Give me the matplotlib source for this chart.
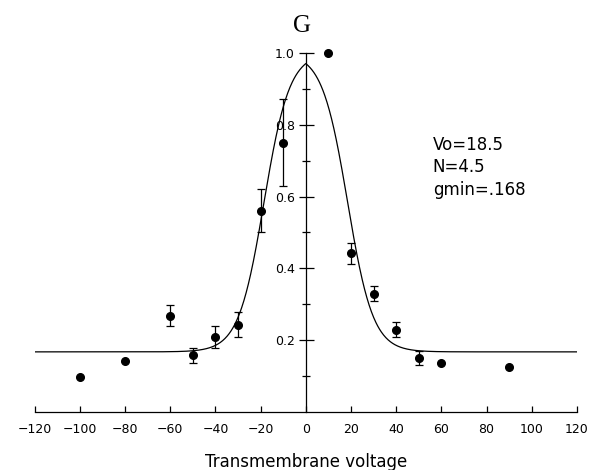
import numpy as np
import matplotlib
matplotlib.use("Agg")
import matplotlib.pyplot as plt

# measured conductance (normalised) vs transmembrane voltage
volts = [-100, -80, -60, -50, -40, -30, -20, -10, 10, 20, 30, 40, 50, 60, 90]
g_norm = [0.097, 0.142, 0.269, 0.158, 0.209, 0.244, 0.56, 0.75, 1.0,
          0.442, 0.33, 0.23, 0.151, 0.136, 0.127]
g_err = [0, 0, 0.03, 0.02, 0.03, 0.035, 0.06, 0.12, 0,
         0.03, 0.02, 0.02, 0.02, 0, 0]

# fit parameters printed on the chart
Vo = 18.5
N = 4.5
gmin = 0.168
fit_text = ["Vo=18.5", "N=4.5", "gmin=.168"]

x_ticks = list(range(-120, 121, 20))
y_ticks = [0.2, 0.4, 0.6, 0.8, 1.0]
y_minor = [0.1, 0.3, 0.5, 0.7, 0.9]

fig = plt.figure(figsize=(5.99, 4.70), dpi=100)
ax = fig.add_axes([0.0578, 0.1228, 0.9055, 0.7651])

# Boltzmann fit curve, symmetric in V
v = np.linspace(-120, 120, 1201)
A = N / 25.4
fit = gmin + (1 - gmin) / (1 + np.exp(A * (np.abs(v) - Vo)))
ax.plot(v, fit, color="black", lw=0.9)

volts = np.array(volts)
g_norm = np.array(g_norm)
g_err = np.array(g_err)
has_err = g_err > 0
ax.errorbar(volts[has_err], g_norm[has_err], yerr=g_err[has_err], fmt="o",
            color="black", ms=5.5, capsize=2.8, elinewidth=0.9, capthick=0.9)
ax.plot(volts[~has_err], g_norm[~has_err], "o", color="black", ms=5.5,
        clip_on=False)

ax.set_xlim(-120, 120)
ax.set_ylim(0, 1.0)
ax.spines["top"].set_visible(False)
ax.spines["right"].set_visible(False)
ax.spines["left"].set_position(("data", 0))
ax.spines["bottom"].set_position(("data", 0))
for s in ("left", "bottom"):
    ax.spines[s].set_linewidth(0.9)

ax.set_xticks(x_ticks)
ax.set_yticks(y_ticks)
ax.set_yticks(y_minor, minor=True)
ax.tick_params(axis="x", direction="in", length=4.3, width=0.9, pad=8,
               labelsize=9)
ax.tick_params(axis="y", which="major", direction="inout", length=10.8,
               width=0.9, pad=2.5, labelsize=9)
ax.tick_params(axis="y", which="minor", direction="inout", length=5.5,
               width=0.9)

fig.text(0.5037, 0.9326, "G", family="Liberation Serif", fontsize=18,
         ha="center", va="baseline")
fig.text(0.511, 0.007, "Transmembrane voltage", fontsize=12,
         ha="center", va="baseline")
for i, line in enumerate(fit_text):
    fig.text(0.7224, 0.6809 - i * 0.0479, line, fontsize=12, va="baseline")

fig.savefig("out.png", dpi=100)
